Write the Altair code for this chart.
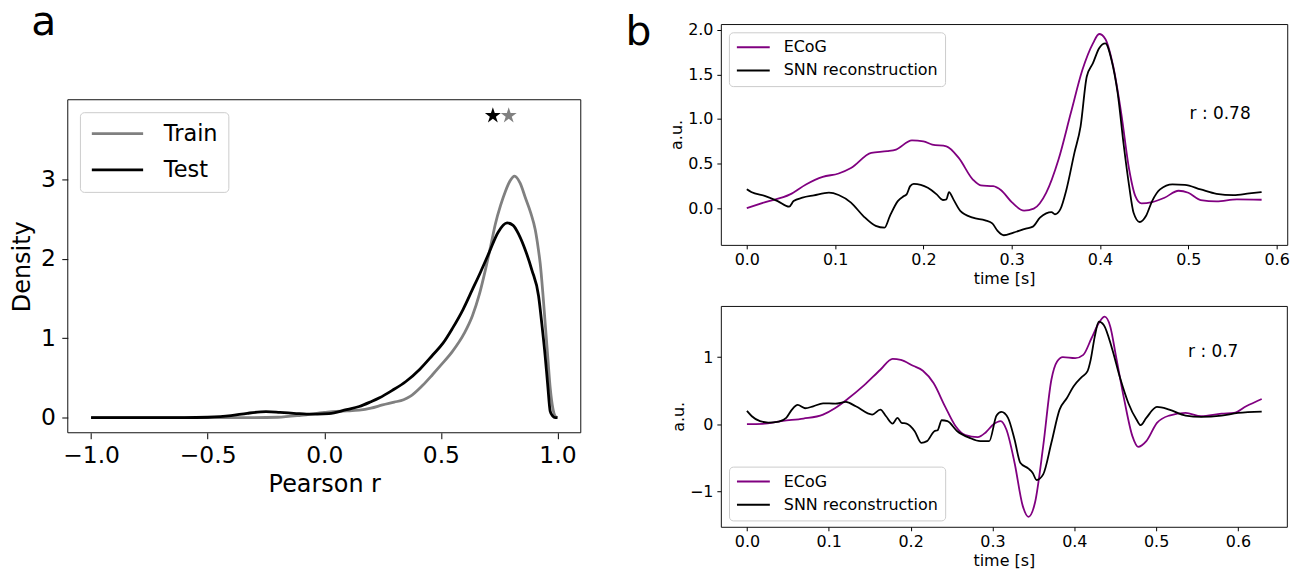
import altair as alt
import pandas as pd

FONT = "DejaVu Sans"
MINUS = "\u2212"
STAR = ("M0,-1L0.2245,-0.309L0.9511,-0.309L0.3633,0.118L0.5878,0.809L0,0.382"
        "L-0.5878,0.809L-0.3633,0.118L-0.9511,-0.309L-0.2245,-0.309Z")

# ---------------- panel a : density of Pearson r ----------------
train_r = [-1.0, -0.6, -0.4, -0.3, -0.2, -0.1, 0.0, 0.05, 0.1, 0.15, 0.2, 0.25, 0.3, 0.34, 0.37,
           0.42, 0.464, 0.5, 0.549, 0.6, 0.635, 0.665, 0.691, 0.713, 0.734, 0.756, 0.777, 0.797,
           0.816, 0.84, 0.862, 0.885, 0.905, 0.918, 0.926, 0.937, 0.947, 0.958, 0.969, 0.98, 0.99, 1.0]
train_d = [0.0, 0.0, 0.0, 0.0, 0.005, 0.03, 0.065, 0.08, 0.085, 0.095, 0.12, 0.16, 0.195, 0.225, 0.27,
           0.4, 0.54, 0.66, 0.83, 1.06, 1.28, 1.55, 1.86, 2.15, 2.44, 2.67, 2.85, 2.98,
           3.04, 2.95, 2.77, 2.58, 2.36, 2.12, 1.94, 1.58, 1.2, 0.78, 0.37, 0.12, 0.02, 0.0]
test_r = [-1.0, -0.6, -0.5, -0.4, -0.33, -0.25, -0.19, -0.12, -0.076, -0.03, 0.02, 0.095, 0.15, 0.2,
          0.237, 0.29, 0.35, 0.41, 0.464, 0.51, 0.549, 0.595, 0.635, 0.67, 0.706, 0.745, 0.784, 0.81,
          0.835, 0.862, 0.89, 0.919, 0.933, 0.947, 0.958, 0.969, 0.98, 0.99, 1.0]
test_d = [0.0, 0.0, 0.005, 0.025, 0.055, 0.075, 0.066, 0.052, 0.045, 0.045, 0.05, 0.1, 0.14, 0.2,
          0.25, 0.34, 0.455, 0.61, 0.785, 0.94, 1.12, 1.36, 1.61, 1.83, 2.07, 2.33, 2.45, 2.42,
          2.3, 2.11, 1.86, 1.53, 1.18, 0.785, 0.42, 0.08, 0.02, 0.0, 0.0]
a_series = ["Train", "Test"]
a_colors = ["#808080", "#000000"]
star_r = [0.723, 0.791]
star_d = [3.80, 3.80]
star_colors = ["#000000", "#808080"]
a_xdom = [-1.1, 1.1]
a_ydom = [-0.19, 4.0]
a_xticks = [-1.0, -0.5, 0.0, 0.5, 1.0]
a_yticks = [0, 1, 2, 3]

# ---------------- panel b1 ----------------
b1_ecog_t = [0, 0.021, 0.049, 0.067, 0.086, 0.104, 0.118, 0.141, 0.159, 0.169, 0.187, 0.2, 0.21,
             0.226, 0.24, 0.256, 0.265, 0.279, 0.288, 0.3, 0.314, 0.325, 0.339, 0.353, 0.367, 0.38,
             0.392, 0.399, 0.406, 0.415, 0.424, 0.433, 0.44, 0.447, 0.459, 0.473, 0.489, 0.5, 0.514,
             0.532, 0.555, 0.583]
b1_ecog_v = [0.0, 0.067, 0.153, 0.265, 0.35, 0.388, 0.45, 0.62, 0.638, 0.657, 0.761, 0.75, 0.713,
             0.694, 0.563, 0.32, 0.254, 0.246, 0.2, 0.067, -0.03, -0.007, 0.17, 0.545, 1.07, 1.55,
             1.85, 1.955, 1.9, 1.59, 1.067, 0.433, 0.134, 0.052, 0.067, 0.116, 0.194, 0.172, 0.09,
             0.075, 0.097, 0.093]
b1_snn_t = [0, 0.005, 0.021, 0.035, 0.048, 0.053, 0.063, 0.076, 0.093, 0.104, 0.118, 0.132, 0.146,
            0.156, 0.162, 0.171, 0.178, 0.181, 0.185, 0.189, 0.205, 0.215, 0.222, 0.226, 0.229,
            0.234, 0.242, 0.256, 0.27, 0.278, 0.284, 0.291, 0.302, 0.316, 0.324, 0.332, 0.339,
            0.345, 0.349, 0.355, 0.362, 0.371, 0.378, 0.385, 0.392, 0.399, 0.406, 0.413, 0.42,
            0.427, 0.433, 0.438, 0.445, 0.452, 0.459, 0.468, 0.482, 0.496, 0.514, 0.532, 0.551,
            0.569, 0.583]
b1_snn_v = [0.21, 0.18, 0.134, 0.078, 0.015, 0.078, 0.116, 0.142, 0.172, 0.146, 0.06, -0.09, -0.2,
            -0.22, -0.09, 0.078, 0.134, 0.153, 0.246, 0.272, 0.228, 0.153, 0.09, 0.097, 0.179,
            0.097, -0.034, -0.108, -0.138, -0.172, -0.257, -0.306, -0.276, -0.231, -0.209, -0.108,
            -0.06, -0.045, -0.07, -0.015, 0.209, 0.62, 0.918, 1.478, 1.627, 1.795, 1.85, 1.664,
            1.291, 0.694, 0.246, -0.052, -0.157, -0.09, 0.078, 0.209, 0.265, 0.261, 0.209, 0.16,
            0.146, 0.164, 0.179]
b1_note = "r : 0.78"
b1_note_t = [0.5014]
b1_note_v = [1.0]

# ---------------- panel b2 ----------------
b2_ecog_t = [0, 0.019, 0.044, 0.069, 0.093, 0.108, 0.123, 0.143, 0.163, 0.178, 0.188, 0.203, 0.215,
             0.228, 0.242, 0.255, 0.267, 0.282, 0.292, 0.301, 0.31, 0.317, 0.327, 0.337, 0.344,
             0.352, 0.362, 0.372, 0.379, 0.386, 0.401, 0.411, 0.421, 0.431, 0.437, 0.444, 0.451,
             0.461, 0.471, 0.478, 0.488, 0.501, 0.516, 0.536, 0.555, 0.58, 0.595, 0.61, 0.629]
b2_ecog_v = [0.0, 0.005, 0.05, 0.084, 0.144, 0.243, 0.376, 0.579, 0.812, 0.975, 0.96, 0.871, 0.797,
             0.614, 0.267, -0.03, -0.163, -0.193, -0.119, -0.005, 0.045, -0.079, -0.574, -1.218,
             -1.381, -1.168, -0.327, 0.663, 0.936, 1.0, 0.985, 1.035, 1.282, 1.53, 1.604, 1.455,
             1.01, 0.366, -0.178, -0.337, -0.252, 0.02, 0.129, 0.168, 0.119, 0.158, 0.168, 0.267,
             0.376]
b2_snn_t = [0, 0.006, 0.016, 0.026, 0.039, 0.048, 0.055, 0.062, 0.071, 0.081, 0.093, 0.108, 0.121,
            0.133, 0.153, 0.163, 0.17, 0.178, 0.184, 0.189, 0.195, 0.205, 0.213, 0.22, 0.229, 0.233,
            0.238, 0.245, 0.257, 0.272, 0.285, 0.296, 0.305, 0.311, 0.319, 0.327, 0.334, 0.344,
            0.349, 0.354, 0.362, 0.372, 0.382, 0.391, 0.399, 0.409, 0.416, 0.42, 0.425, 0.43, 0.436,
            0.446, 0.456, 0.466, 0.476, 0.481, 0.488, 0.501, 0.516, 0.536, 0.555, 0.58, 0.6, 0.629]
b2_snn_v = [0.198, 0.119, 0.045, 0.025, 0.04, 0.094, 0.218, 0.287, 0.238, 0.267, 0.312, 0.307,
            0.332, 0.267, 0.144, 0.218, 0.119, 0.01, 0.094, 0.02, 0.01, -0.104, -0.277, -0.252,
            -0.104, -0.089, 0.059, 0.045, -0.104, -0.203, -0.252, -0.252, 0.129, 0.183, 0.094,
            -0.228, -0.574, -0.663, -0.723, -0.832, -0.748, -0.277, 0.218, 0.391, 0.564, 0.703,
            0.787, 0.96, 1.307, 1.53, 1.48, 1.134, 0.688, 0.317, 0.069, -0.015, 0.094, 0.257,
            0.218, 0.129, 0.109, 0.129, 0.168, 0.188]
b2_note = "r : 0.7"
b2_note_t = [0.539]
b2_note_v = [1.0]
b_series = ["ECoG", "SNN reconstruction"]
b_colors = ["#800080", "#000000"]
b_xticks = [0.0, 0.1, 0.2, 0.3, 0.4, 0.5, 0.6]
b1_yticks = [0.0, 0.5, 1.0, 1.5, 2.0]
b2_yticks = [-1, 0, 1]

MINUS_EXPR = "replace(datum.label, '-', '" + MINUS + "')"


def axis(values, fmt, title, fs_lab, fs_tit, tick, lpad, tpad):
    return alt.Axis(values=values, format=fmt, labelExpr=MINUS_EXPR, title=title,
                    labelFont=FONT, titleFont=FONT, labelFontSize=fs_lab, titleFontSize=fs_tit,
                    titleFontWeight="normal", labelColor="black", titleColor="black",
                    tickColor="black", tickSize=tick, tickWidth=1, labelPadding=lpad,
                    titlePadding=tpad, domain=False, grid=False, labelFlush=False,
                    labelOverlap=False)


def label_layer(text, x, y, size, opacity=1.0):
    return alt.Chart(pd.DataFrame({"lab": [text]})).mark_text(
        align="left", baseline="alphabetic", font=FONT, fontSize=size, color="black",
        opacity=opacity).encode(x=alt.value(x), y=alt.value(y), text="lab:N")


# ---------- panel a ----------
# the panel's plot area starts at the top of panel b; its y range is the lower part only
A_W, A_H, A_TOP = 515, 410.3, 76
df_train = pd.DataFrame({"r": train_r, "d": train_d, "set": a_series[0]})
df_test = pd.DataFrame({"r": test_r, "d": test_d, "set": a_series[1]})
df_star = pd.DataFrame({"r": star_r, "d": star_d, "c": star_colors})
df_frame = pd.DataFrame({"r": [a_xdom[0]], "r2": [a_xdom[1]], "d": [a_ydom[0]], "d2": [a_ydom[1]]})

ax_x = alt.X("r:Q", scale=alt.Scale(domain=a_xdom, nice=False, zero=False),
             axis=axis(a_xticks, ".1f", "Pearson r", 23.5, 24, 6, 5.1, 5.6))
ax_y = alt.Y("d:Q", scale=alt.Scale(domain=a_ydom, range=[A_H, A_TOP], nice=False, zero=False),
             axis=axis(a_yticks, "d", "Density", 23.5, 24, 6, 6.4, 6.1))
a_leg = alt.Legend(orient="none", legendX=12.2, legendY=A_TOP + 12.5, title=None,
                   symbolType="stroke", symbolSize=51.5 ** 2, symbolStrokeWidth=2.8,
                   clipHeight=22.5, labelFont=FONT, labelFontSize=22.5, labelColor="black",
                   labelOffset=19, padding=10.2, rowPadding=13.5, strokeColor="#cccccc",
                   fillColor="rgba(255,255,255,0.8)", cornerRadius=4)
a_col = alt.Color("set:N", scale=alt.Scale(domain=a_series, range=a_colors), legend=a_leg)

a_frame = alt.Chart(df_frame).mark_rect(filled=False, stroke="#111111", strokeWidth=1).encode(
    x=ax_x, x2="r2", y=ax_y, y2="d2")
a_train = alt.Chart(df_train).mark_line(strokeWidth=2.8, interpolate="monotone").encode(
    x=ax_x, y=ax_y, color=a_col)
a_test = alt.Chart(df_test).mark_line(strokeWidth=2.8, interpolate="monotone").encode(
    x=ax_x, y=ax_y, color=a_col)
a_stars = alt.Chart(df_star).mark_point(shape=STAR, filled=True, size=283, opacity=1,
                                        strokeWidth=0).encode(
    x=ax_x, y=ax_y, fill=alt.Fill("c:N", scale=None))
panel_a = alt.layer(a_frame, a_train, a_test, a_stars,
                    label_layer("a", -36.6, A_TOP - 65, 41)).properties(
    width=A_W, height=A_H, view=alt.ViewBackground(strokeOpacity=0))


# ---------- panels b ----------
def b_panel(ecog_t, ecog_v, snn_t, snn_v, xdom, ydom, yticks, yfmt, note, nt, nv,
            legx, legy, w, h, extra):
    df_e = pd.DataFrame({"t": ecog_t, "v": ecog_v, "sig": b_series[0]})
    df_s = pd.DataFrame({"t": snn_t, "v": snn_v, "sig": b_series[1]})
    df_n = pd.DataFrame({"t": nt, "v": nv, "lab": [note]})
    bx = alt.X("t:Q", scale=alt.Scale(domain=xdom, nice=False, zero=False),
               axis=axis(b_xticks, ".1f", "time [s]", 16, 16, 4, 2.8, 3))
    by = alt.Y("v:Q", scale=alt.Scale(domain=ydom, nice=False, zero=False),
               axis=axis(yticks, yfmt, "a.u.", 16, 16, 4, 3.9, 3))
    leg = alt.Legend(orient="none", legendX=legx, legendY=legy, title=None, symbolType="stroke",
                     symbolSize=33 ** 2, symbolStrokeWidth=2, clipHeight=16,
                     labelFont=FONT, labelFontSize=16, labelColor="black", labelOffset=13,
                     padding=7, rowPadding=7.3, strokeColor="#cccccc",
                     fillColor="rgba(255,255,255,0.8)", cornerRadius=4)
    col = alt.Color("sig:N", scale=alt.Scale(domain=b_series, range=b_colors), legend=leg)
    le = alt.Chart(df_e).mark_line(strokeWidth=1.8, interpolate="monotone").encode(
        x=bx, y=by, color=col)
    ls = alt.Chart(df_s).mark_line(strokeWidth=1.8, interpolate="monotone").encode(
        x=bx, y=by, color=col)
    tx = alt.Chart(df_n).mark_text(align="left", baseline="alphabetic", font=FONT,
                                   fontSize=17, color="black").encode(
        x=bx, y=by, text="lab:N")
    return alt.layer(le, ls, tx, *extra).properties(width=w, height=h)


panel_b1 = b_panel(b1_ecog_t, b1_ecog_v, b1_snn_t, b1_snn_v, [-0.0294, 0.612], [-0.414, 2.067],
                   b1_yticks, ".1f", b1_note, b1_note_t, b1_note_v, 8.1, 8.3, 568.6, 221.7,
                   [label_layer("b", -95.6, 21, 41), label_layer("b", -95.6, 11, 41, 0.0)])
panel_b2 = b_panel(b2_ecog_t, b2_ecog_v, b2_snn_t, b2_snn_v, [-0.0319, 0.6597], [-1.53, 1.764],
                   b2_yticks, "d", b2_note, b2_note_t, b2_note_v, 8.2, 161.3, 568.2, 221.7,
                   [label_layer("b", -94.8, 100, 16, 0.0)])

right = alt.vconcat(panel_b1, panel_b2, spacing=18).resolve_scale(color="independent")
chart = alt.hconcat(panel_a, right, spacing=42.6).resolve_scale(color="independent").properties(
    padding={"left": 2, "top": -8, "right": 5, "bottom": 5}, background="white"
).configure_view(stroke="#111111", strokeWidth=1)

chart.save("out.html", embed_options={"renderer": "svg", "actions": False})
